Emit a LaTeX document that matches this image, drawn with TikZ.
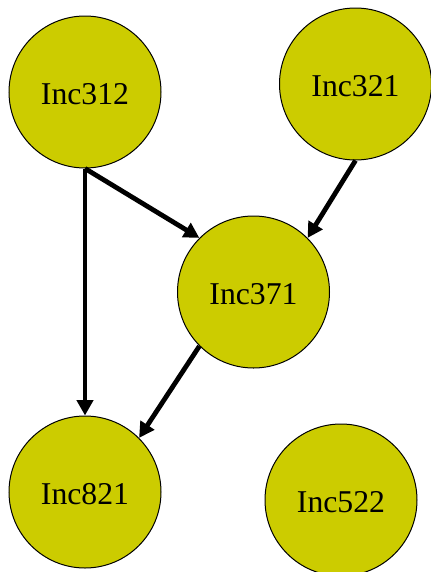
\documentclass[tikz,border=0pt]{standalone}
\usepackage{fontspec}
\setmainfont{Liberation Serif}
\usetikzlibrary{arrows.meta}
\definecolor{nodefill}{RGB}{204,204,0}
\newcommand{\inctext}[1]{\raisebox{-1.5pt}[\height][0pt]{#1}}
\begin{document}
\begin{tikzpicture}[x=0.75pt,y=-0.75pt,
  inc/.style={circle,draw=black,line width=0.75pt,fill=nodefill,minimum size=114pt,inner sep=0pt,
    font=\fontsize{23.8}{28}\selectfont},
  edge/.style={line width=3.6pt,-{Triangle[length=11.5pt,width=12pt]}}]
\useasboundingbox (0,0) rectangle (430,572);
\fill[white] (0,0) rectangle (430,572);
\node[inc] (a) at (85,92) {\inctext{Inc312}};
\node[inc] (b) at (355.5,84) {\inctext{Inc321}};
\node[inc] (c) at (253.5,292) {\inctext{Inc371}};
\node[inc] (d) at (85,492) {\inctext{Inc821}};
\node[inc] (e) at (341,500) {\inctext{Inc522}};
\draw[edge] (a.south) -- (d.north);
\draw[edge] (a.south) -- (c.135);
\draw[edge] (b.south) -- (c.45);
\draw[edge] (c.225) -- (d.45);
\end{tikzpicture}
\end{document}
